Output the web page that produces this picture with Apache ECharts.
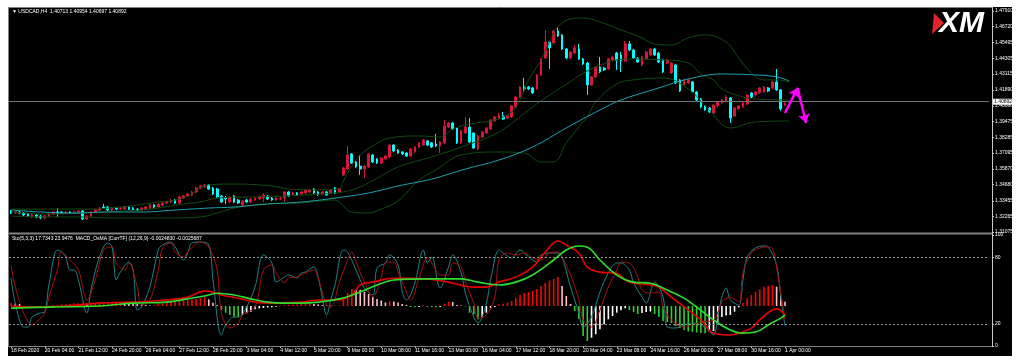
<!DOCTYPE html>
<html><head><meta charset="utf-8">
<script src="https://cdn.jsdelivr.net/npm/echarts@6/dist/echarts.min.js"></script>
<style>html,body{margin:0;padding:0;background:#fff}#c{width:1024px;height:361px}</style>
</head><body><div id="c"></div>
<script>
const tickLabels = ['18 Feb 2020','20 Feb 04:00','21 Feb 12:00','24 Feb 20:00','26 Feb 04:00','27 Feb 12:00','28 Feb 20:00','3 Mar 04:00','4 Mar 12:00','5 Mar 20:00','9 Mar 00:00','10 Mar 08:00','11 Mar 16:00','13 Mar 00:00','16 Mar 04:00','17 Mar 12:00','18 Mar 20:00','20 Mar 04:00','23 Mar 08:00','24 Mar 16:00','26 Mar 00:00','27 Mar 08:00','30 Mar 16:00','1 Apr 00:00'];
const barsPerTick = 8;
const slotCount = 233;
// [open, close, low, high]
const candles = [
[1.3267,1.3252,1.3244,1.3275],[1.3252,1.3260,1.3244,1.3267],[1.3260,1.3252,1.3244,1.3267],[1.3252,1.3237,1.3229,1.3260],[1.3244,1.3229,1.3222,1.3252],
[1.3222,1.3237,1.3214,1.3244],[1.3237,1.3222,1.3214,1.3244],[1.3229,1.3214,1.3206,1.3237],[1.3214,1.3229,1.3206,1.3237],[1.3229,1.3244,1.3222,1.3252],
[1.3244,1.3260,1.3237,1.3267],[1.3260,1.3252,1.3222,1.3290],[1.3260,1.3252,1.3244,1.3267],[1.3252,1.3260,1.3244,1.3267],[1.3260,1.3252,1.3244,1.3267],
[1.3252,1.3260,1.3244,1.3267],[1.3252,1.3267,1.3244,1.3275],[1.3267,1.3206,1.3199,1.3275],[1.3206,1.3229,1.3199,1.3237],[1.3229,1.3260,1.3222,1.3267],
[1.3260,1.3275,1.3252,1.3282],[1.3275,1.3290,1.3267,1.3298],[1.3298,1.3290,1.3282,1.3321],[1.3298,1.3275,1.3267,1.3305],[1.3275,1.3290,1.3267,1.3298],
[1.3290,1.3282,1.3275,1.3298],[1.3282,1.3290,1.3275,1.3298],[1.3282,1.3298,1.3275,1.3305],[1.3298,1.3282,1.3275,1.3305],[1.3290,1.3275,1.3267,1.3298],
[1.3282,1.3275,1.3267,1.3290],[1.3275,1.3290,1.3267,1.3298],[1.3282,1.3298,1.3275,1.3305],[1.3290,1.3313,1.3282,1.3328],[1.3313,1.3298,1.3290,1.3321],
[1.3298,1.3321,1.3290,1.3328],[1.3313,1.3328,1.3305,1.3336],[1.3328,1.3336,1.3321,1.3344],[1.3336,1.3351,1.3328,1.3359],[1.3351,1.3328,1.3321,1.3359],
[1.3328,1.3374,1.3321,1.3382],[1.3366,1.3382,1.3359,1.3389],[1.3382,1.3397,1.3374,1.3405],[1.3389,1.3412,1.3382,1.3420],[1.3412,1.3443,1.3405,1.3451],
[1.3443,1.3458,1.3435,1.3466],[1.3451,1.3466,1.3443,1.3473],[1.3466,1.3435,1.3428,1.3473],[1.3443,1.3397,1.3389,1.3451],[1.3435,1.3374,1.3366,1.3443],
[1.3382,1.3336,1.3328,1.3389],[1.3366,1.3359,1.3321,1.3382],[1.3336,1.3374,1.3328,1.3382],[1.3382,1.3336,1.3328,1.3389],[1.3351,1.3328,1.3321,1.3359],
[1.3313,1.3344,1.3305,1.3351],[1.3351,1.3336,1.3328,1.3359],[1.3336,1.3359,1.3328,1.3366],[1.3351,1.3366,1.3344,1.3374],[1.3359,1.3374,1.3351,1.3382],
[1.3366,1.3389,1.3336,1.3405],[1.3382,1.3359,1.3351,1.3389],[1.3366,1.3351,1.3344,1.3374],[1.3351,1.3366,1.3344,1.3374],[1.3359,1.3366,1.3351,1.3374],
[1.3366,1.3412,1.3336,1.3420],[1.3412,1.3382,1.3374,1.3420],[1.3389,1.3405,1.3382,1.3412],[1.3405,1.3389,1.3382,1.3412],[1.3397,1.3412,1.3389,1.3420],
[1.3405,1.3428,1.3397,1.3435],[1.3412,1.3428,1.3405,1.3435],[1.3435,1.3405,1.3397,1.3443],[1.3412,1.3389,1.3382,1.3420],[1.3397,1.3412,1.3389,1.3420],
[1.3412,1.3389,1.3382,1.3420],[1.3405,1.3428,1.3397,1.3435],[1.3443,1.3405,1.3397,1.3451],[1.3412,1.3435,1.3405,1.3443],[1.3542,1.3595,1.3534,1.3603],
[1.3587,1.3694,1.3580,1.3763],[1.3702,1.3633,1.3626,1.3709],[1.3641,1.3603,1.3595,1.3649],[1.3610,1.3587,1.3542,1.3694],[1.3587,1.3610,1.3519,1.3618],
[1.3603,1.3702,1.3595,1.3709],[1.3694,1.3641,1.3633,1.3702],[1.3664,1.3633,1.3626,1.3671],[1.3633,1.3671,1.3626,1.3679],[1.3664,1.3686,1.3656,1.3694],
[1.3679,1.3770,1.3671,1.3778],[1.3770,1.3724,1.3717,1.3778],[1.3732,1.3709,1.3702,1.3740],[1.3717,1.3702,1.3694,1.3724],[1.3709,1.3686,1.3679,1.3717],
[1.3686,1.3740,1.3679,1.3747],[1.3717,1.3755,1.3709,1.3763],[1.3755,1.3786,1.3747,1.3793],[1.3770,1.3809,1.3763,1.3816],[1.3801,1.3770,1.3763,1.3809],
[1.3786,1.3755,1.3747,1.3793],[1.3778,1.3763,1.3755,1.3854],[1.3763,1.3793,1.3709,1.3801],[1.3786,1.3915,1.3778,1.3961],[1.3907,1.3938,1.3900,1.3946],
[1.3938,1.3892,1.3885,1.3946],[1.3900,1.3786,1.3778,1.3907],[1.3786,1.3877,1.3778,1.3885],[1.3862,1.3907,1.3854,1.3984],[1.3907,1.3793,1.3786,1.3976],
[1.3862,1.3747,1.3740,1.3869],[1.3740,1.3839,1.3732,1.3847],[1.3831,1.3869,1.3824,1.3877],[1.3862,1.3900,1.3854,1.3907],[1.3892,1.3961,1.3885,1.3968],
[1.3953,1.3984,1.3946,1.3991],[1.3976,1.3999,1.3968,1.4014],[1.3991,1.3968,1.3961,1.4022],[1.3976,1.3991,1.3968,1.3999],[1.3984,1.4068,1.3976,1.4075],
[1.4060,1.4136,1.4052,1.4144],[1.4136,1.4212,1.4128,1.4220],[1.4212,1.4197,1.4174,1.4281],[1.4212,1.4197,1.4190,1.4220],[1.4205,1.4167,1.4159,1.4212],
[1.4197,1.4304,1.4190,1.4311],[1.4304,1.4426,1.4296,1.4433],[1.4433,1.4555,1.4426,1.4647],[1.4555,1.4510,1.4349,1.4563],[1.4548,1.4639,1.4540,1.4647],
[1.4639,1.4601,1.4593,1.4670],[1.4609,1.4502,1.4494,1.4616],[1.4502,1.4433,1.4426,1.4510],[1.4433,1.4479,1.4426,1.4487],[1.4471,1.4510,1.4464,1.4532],
[1.4502,1.4426,1.4418,1.4540],[1.4426,1.4388,1.4380,1.4433],[1.4395,1.4228,1.4151,1.4403],[1.4228,1.4289,1.4220,1.4296],[1.4289,1.4365,1.4281,1.4372],
[1.4365,1.4327,1.4319,1.4441],[1.4357,1.4342,1.4334,1.4365],[1.4349,1.4426,1.4342,1.4433],[1.4418,1.4441,1.4410,1.4449],[1.4471,1.4418,1.4342,1.4479],
[1.4456,1.4410,1.4327,1.4479],[1.4410,1.4540,1.4403,1.4563],[1.4540,1.4494,1.4487,1.4563],[1.4494,1.4433,1.4426,1.4502],[1.4433,1.4403,1.4395,1.4441],
[1.4380,1.4441,1.4372,1.4449],[1.4426,1.4479,1.4418,1.4487],[1.4456,1.4502,1.4449,1.4510],[1.4502,1.4456,1.4449,1.4510],[1.4471,1.4403,1.4395,1.4479],
[1.4418,1.4327,1.4319,1.4426],[1.4395,1.4418,1.4388,1.4426],[1.4319,1.4395,1.4311,1.4403],[1.4380,1.4243,1.4235,1.4388],[1.4266,1.4182,1.4174,1.4273],
[1.4228,1.4266,1.4220,1.4273],[1.4243,1.4266,1.4235,1.4273],[1.4251,1.4174,1.4167,1.4258],[1.4174,1.4113,1.4106,1.4182],[1.4121,1.4060,1.4052,1.4128],
[1.4068,1.4037,1.4030,1.4075],[1.4052,1.4022,1.4014,1.4060],[1.4014,1.4075,1.4007,1.4083],[1.4068,1.4098,1.4060,1.4106],[1.4090,1.4113,1.4083,1.4121],
[1.4106,1.4136,1.4098,1.4151],[1.4128,1.3976,1.3938,1.4136],[1.3991,1.4052,1.3984,1.4060],[1.4045,1.4068,1.4037,1.4075],[1.4060,1.4090,1.4052,1.4098],
[1.4083,1.4151,1.4075,1.4159],[1.4167,1.4136,1.4128,1.4174],[1.4151,1.4174,1.4144,1.4182],[1.4167,1.4205,1.4159,1.4212],[1.4174,1.4212,1.4167,1.4220],
[1.4205,1.4182,1.4174,1.4212],[1.4205,1.4251,1.4197,1.4258],[1.4251,1.4190,1.4182,1.4349],[1.4190,1.4045,1.4030,1.4197],[1.40713,1.40892,1.40697,1.40954]
];
// Bollinger bands and moving average, [bar index, price]
const bbUpper = [[0,1.3282],[9,1.3282],[17,1.3282],[26,1.3298],[33,1.3328],[41,1.3366],[47,1.3466],[53,1.3473],[62,1.3458],[66,1.3435],[73,1.3428],[78,1.3435],[79,1.3496],[81,1.3610],[83,1.3694],[86,1.3763],[90,1.3824],[97,1.3839],[102,1.3831],[105,1.3892],[109,1.3930],[115,1.3961],[119,1.4022],[121,1.4113],[123,1.4266],[126,1.4418],[128,1.4555],[130,1.4670],[133,1.4731],[136,1.4738],[140,1.4708],[145,1.4647],[150,1.4586],[153,1.4540],[157,1.4532],[161,1.4586],[165,1.4609],[170,1.4555],[173,1.4433],[176,1.4319],[179,1.4266],[182,1.4266],[185,1.4251]];
const bbMiddle = [[0,1.3260],[9,1.3244],[17,1.3252],[26,1.3267],[33,1.3282],[41,1.3321],[45,1.3336],[49,1.3366],[57,1.3374],[65,1.3382],[77,1.3405],[81,1.3428],[85,1.3481],[92,1.3603],[100,1.3679],[107,1.3755],[116,1.3869],[123,1.4037],[127,1.4128],[131,1.4212],[139,1.4365],[147,1.4426],[155,1.4418],[161,1.4395],[164,1.4311],[167,1.4266],[169,1.4197],[174,1.4136],[177,1.4121],[185,1.4113]];
const bbLower = [[0,1.3229],[9,1.3222],[17,1.3222],[24,1.3214],[36,1.3214],[45,1.3222],[49,1.3252],[53,1.3290],[61,1.3321],[69,1.3328],[77,1.3351],[78,1.3336],[81,1.3260],[85,1.3252],[88,1.3282],[92,1.3344],[97,1.3504],[101,1.3580],[107,1.3694],[116,1.3717],[122,1.3709],[126,1.3641],[129,1.3641],[132,1.3786],[135,1.3907],[137,1.3984],[139,1.4098],[144,1.4235],[148,1.4266],[155,1.4281],[161,1.4197],[166,1.4037],[171,1.3900],[177,1.3946],[185,1.3953]];
const maLine = [[0,1.3275],[7,1.3260],[15,1.3252],[23,1.3260],[31,1.3260],[39,1.3275],[47,1.3290],[53,1.3298],[61,1.3321],[69,1.3336],[77,1.3366],[85,1.3405],[92,1.3458],[100,1.3511],[108,1.3587],[116,1.3656],[124,1.3755],[132,1.3900],[140,1.4037],[145,1.4113],[154,1.4205],[161,1.4273],[169,1.4311],[177,1.4304],[182,1.4289],[185,1.4258]];
// Stochastic (5,3,3), [bar index, value]
const stochMain = [[0,61.3],[1,38.7],[3,17.1],[4,17.1],[5,26.1],[7,29.7],[8,30.6],[9,55],[11,86.5],[12,84.7],[13,80.2],[14,68.5],[15,68.5],[16,59.5],[18,29.7],[19,50.5],[21,80.2],[23,92.8],[24,89.2],[25,59.5],[26,66.7],[28,75.7],[29,68.5],[30,32.4],[31,35.1],[33,53.2],[35,86.5],[36,91],[38,93.7],[39,89.2],[41,77.5],[42,83.8],[43,92.8],[45,93.7],[47,91],[48,59.5],[50,9.9],[51,18.9],[53,26.1],[54,26.1],[56,35.1],[58,53.2],[60,82],[62,74.8],[63,57.7],[65,62.2],[66,64],[68,61.3],[69,65.8],[70,66.7],[72,71.2],[73,62.2],[74,43.2],[75,27.9],[76,41.4],[77,55],[79,86.5],[80,84.7],[82,68.5],[84,52.3],[86,45.9],[87,70.3],[89,74.8],[90,82],[92,73],[93,48.6],[94,41.4],[96,56.8],[98,86.5],[99,74.8],[100,80.2],[102,52.3],[104,71.2],[105,82],[107,65.8],[108,47.7],[110,26.1],[111,20.7],[113,38.7],[114,59.5],[116,86.5],[117,83.8],[119,79.3],[121,86.5],[123,80.2],[125,75.7],[126,82],[129,83.8],[130,83.8],[131,80.2],[133,53.2],[135,29.7],[136,17.1],[138,26.1],[140,48.6],[142,65.8],[144,74.8],[145,74.8],[147,68.5],[148,56.8],[150,44.1],[151,38.7],[153,57.7],[155,44.1],[156,17.1],[158,16.2],[160,18.9],[162,20.7],[165,17.1],[167,9.9],[168,26.1],[169,44.1],[170,52.3],[171,41.4],[173,36.9],[174,59.5],[175,80.2],[177,88.3],[179,90.1],[180,89.2],[182,73],[183,44.1],[184,17.7343]];
const stochSignal = [[0,73],[1,53.2],[3,29.7],[5,18.9],[6,21.6],[8,29.7],[9,44.1],[11,68.5],[12,84.7],[14,77.5],[16,68.5],[17,53.2],[18,41.4],[20,59.5],[22,86.5],[24,89.2],[25,74.8],[27,68.5],[28,74.8],[30,53.2],[31,36.9],[33,41.4],[35,68.5],[36,88.3],[38,92.8],[39,84.7],[41,80.2],[42,84.7],[45,93.7],[47,89.2],[49,68.5],[50,29.7],[52,16.2],[54,20.7],[55,27.9],[58,35.1],[60,68.5],[62,73],[63,65.8],[65,56.8],[66,61.3],[68,62.2],[69,64],[70,65.8],[72,68.5],[73,61.3],[75,36.9],[76,35.1],[78,56.8],[80,77.5],[81,84.7],[82,75.7],[84,57.7],[86,44.1],[88,62.2],[89,74.8],[91,75.7],[92,66.7],[94,48.6],[95,41.4],[97,61.3],[99,79.3],[100,74.8],[102,64],[104,64],[105,74.8],[107,71.2],[108,57.7],[110,38.7],[111,25.2],[113,27.9],[115,44.1],[116,77.5],[118,83.8],[120,82],[122,83.8],[124,79.3],[126,77.5],[128,83.8],[130,84.7],[131,80.2],[133,64],[135,41.4],[136,23.4],[138,17.1],[140,32.4],[142,53.2],[144,68.5],[145,75.7],[147,74.8],[149,62.2],[150,50.5],[152,47.7],[154,48.6],[155,35.1],[157,23.4],[160,17.1],[162,18.9],[164,21.6],[167,23.4],[169,39.6],[171,44.1],[173,39.6],[174,65.8],[176,83.8],[178,88.3],[180,89.2],[181,88.3],[182,71.2],[183,47.7],[184,23.9476]];
// MACD (12,26,9) main and signal, [bar index, value]
const macdMain = [[0,0],[5,-0.0003],[13,0],[21,0.0008],[29,0.0011],[37,0.0017],[42,0.0025],[46,0.0042],[48,0.0039],[50,0.0031],[54,0.0022],[58,0.0011],[62,0.0008],[69,0.0011],[73,0.0017],[78,0.0017],[81,0.0031],[83,0.0059],[86,0.0067],[91,0.0078],[95,0.0078],[99,0.0076],[104,0.0067],[110,0.0053],[113,0.0053],[116,0.0067],[120,0.0081],[124,0.0109],[127,0.0151],[130,0.0182],[132,0.0171],[135,0.0148],[137,0.0109],[140,0.0095],[144,0.0092],[146,0.0073],[148,0.0064],[152,0.0059],[154,0.0053],[157,0.0025],[161,-0.0011],[164,-0.0039],[167,-0.0076],[171,-0.0081],[173,-0.0076],[176,-0.0062],[178,-0.0039],[182,-0.0008],[184,-0.0024830]];
const macdSignal = [[0,-0.0006],[9,-0.0003],[21,0],[29,0.0008],[37,0.0011],[42,0.0020],[46,0.0028],[49,0.0036],[53,0.0031],[57,0.0020],[61,0.0011],[65,0.0008],[69,0.0008],[73,0.0011],[78,0.0020],[83,0.0039],[87,0.0059],[91,0.0073],[100,0.0076],[107,0.0076],[111,0.0067],[116,0.0059],[120,0.0067],[124,0.0087],[129,0.0129],[132,0.0157],[135,0.0168],[137,0.0165],[140,0.0129],[144,0.0087],[148,0.0067],[152,0.0064],[156,0.0045],[160,0.0022],[163,-0.0003],[167,-0.0039],[171,-0.0067],[174,-0.0076],[177,-0.0073],[180,-0.0053],[183,-0.0034],[184,-0.0025687]];
// OsMA histogram, one value per bar (units of 1e-5)
const osmaHist = [
6,5,4,-1.6,-2,-2.4,-2,-1.6,-1.2,-0.8,
1.6,2.4,3.2,4,4.4,4.8,5.2,5.6,5.2,5.6,
6,6.4,6.8,7.2,7.6,8,8.4,7,6,5,
4,3,2,1.2,1.6,4,5,6.6,8,9,
10,11,12,13,14,15.4,17.4,13.4,6.6,2,
-8,-13.4,-18,-21.4,-22,-18,-14.6,-11.4,-6.6,-5,
-4,-3,-2.4,-1.6,1,2,2.4,2.8,3.2,4,
4.4,5,4,3,1.6,1,0.8,0.6,0.4,16,
26,34,33,32,28,24,18,14,11,7,
10,9,7,4,2,-2,-2.6,-2,1.6,-1.6,
-2.4,-2.8,-2,4.6,8.6,8,2,1,-1,-13.4,
-16.6,-26.6,-23.4,-13.4,-4.6,-2,3.4,4.6,6.6,10,
16,22,26,28,30,34,40,46,51,54,
58,40,20,4,-10,-26.6,-60,-70,-63.4,-56.6,
-46.6,-36.6,-26.6,-20,-13.4,-8.6,-4.6,-8,-12,-16,
-14,-12,-11,-16,-22,-30,-32,-34,-40,-44,
-48,-51,-52,-53,-54,-54.4,-51,-50,-32,-22,
-19,-18,-11.4,-2.6,6.6,15.4,22,28.6,33.4,38.6,
40,42,38.6,22,8.6
];
const priceTicks = [1.47910,1.46720,1.45495,1.44305,1.43115,1.41890,1.40680,1.39475,1.38285,1.37095,1.35870,1.34680,1.33455,1.32265,1.31075];
const stochTicks = [100,80,20,0];
const stochLevels = [80,20];
// hand-drawn forecast arrow, [bar index, price]
const arrowPath = [[184,1.4014],[187,1.4205],[189,1.3938]];

const FONT = '"Liberation Sans", Arial, sans-serif';
const BULL = '#DC143C', BEAR = '#00FFFF';
const cats = Array.from({length: slotCount}, (_, i) => 'b' + i);
const showTick = (i) => i % barsPerTick === 0 && i / barsPerTick < tickLabels.length;
const last = candles[candles.length - 1];
const titleText = '\u25BC USDCAD,H4  ' + [last[0], last[3], last[2], last[1]].map(v => v.toFixed(5)).join(' ');
const subTitle = 'Sto(5,3,3) 17.7343 23.9476  MACD_OsMA [CurrTF] (12,26,9) -0.0024830 -0.0025687';
const osmaData = osmaHist.map((v, i) => {
  const p = i > 0 ? osmaHist[i - 1] : v;
  const col = v >= 0 ? (v >= p ? '#FF0000' : '#FFC0CB') : (v <= p ? '#32CD32' : '#FFFFFF');
  return {value: v, itemStyle: {color: col}};
});

const chart = echarts.init(document.getElementById('c'), null, {renderer: 'canvas'});
const lineS = (name, data, color, yIdx, xIdx, width, smooth) => ({
  name, type: 'line', data, xAxisIndex: xIdx, yAxisIndex: yIdx, showSymbol: false, symbol: 'none',
  smooth: smooth, lineStyle: {color, width}, silent: true, z: 3
});
chart.setOption({
  animation: false,
  backgroundColor: '#ffffff',
  graphic: [
    {type: 'rect', shape: {x: 8, y: 7, width: 1004, height: 349}, style: {fill: '#000000'}, z: -5, silent: true},
    {type: 'line', shape: {x1: 8, y1: 7.5, x2: 993, y2: 7.5}, style: {stroke: '#808080', lineWidth: 1}, z: 10},
    {type: 'line', shape: {x1: 8.5, y1: 7, x2: 8.5, y2: 347}, style: {stroke: '#808080', lineWidth: 1}, z: 10},
    {type: 'rect', shape: {x: 9, y: 232.5, width: 984, height: 2}, style: {fill: '#808080'}, z: 10},
    {type: 'line', shape: {x1: 8, y1: 346.5, x2: 993, y2: 346.5}, style: {stroke: '#808080', lineWidth: 1}, z: 10},
    {type: 'line', shape: {x1: 992.5, y1: 7, x2: 992.5, y2: 347}, style: {stroke: '#c8c8c8', lineWidth: 1}, z: 10},
    {type: 'text', x: 12, y: 9.5, style: {text: titleText, fill: '#ffffff', font: '5px ' + FONT, textVerticalAlign: 'top'}, z: 20},
    {type: 'text', x: 12, y: 236, style: {text: subTitle, fill: '#ffffff', font: '5px ' + FONT, textVerticalAlign: 'top'}, z: 20},
    {type: 'polygon', shape: {points: [[934, 13], [944, 23], [932, 34]]}, style: {fill: '#E3222B'}, z: 20},
    {type: 'text', x: 939, y: 24, style: {text: 'XM', fill: '#ffffff', font: 'italic bold 30px ' + FONT, textVerticalAlign: 'middle'}, z: 19}
  ],
  grid: [
    {left: 9, top: 11, width: 980, height: 221},
    {left: 9, top: 235, width: 980, height: 111}
  ],
  xAxis: [
    {type: 'category', gridIndex: 0, data: cats, show: false, boundaryGap: true},
    {type: 'category', gridIndex: 1, data: cats, boundaryGap: true,
     axisLine: {show: false},
     axisTick: {show: true, interval: (i) => showTick(i), alignWithLabel: true, length: 2, lineStyle: {color: '#c8c8c8'}},
     axisLabel: {interval: (i) => showTick(i), formatter: (v, i) => tickLabels[i / barsPerTick], color: '#ffffff', fontSize: 5, fontFamily: FONT, align: 'left', margin: 2}}
  ],
  yAxis: [
    {type: 'value', gridIndex: 0, position: 'right', offset: 3, min: 1.31075, max: 1.47910, splitLine: {show: false}, axisLine: {show: false},
     axisTick: {show: true, length: 2, customValues: priceTicks, lineStyle: {color: '#c8c8c8'}},
     axisLabel: {customValues: priceTicks, formatter: (v) => v.toFixed(5), color: '#ffffff', fontSize: 5, fontFamily: FONT, margin: 3}},
    {type: 'value', gridIndex: 1, position: 'right', offset: 3, min: 0, max: 100, splitLine: {show: false}, axisLine: {show: false},
     axisTick: {show: true, length: 2, customValues: stochTicks, lineStyle: {color: '#c8c8c8'}},
     axisLabel: {customValues: stochTicks, color: '#ffffff', fontSize: 5, fontFamily: FONT, margin: 3}},
    {type: 'value', gridIndex: 1, show: false, min: -0.0112, max: 0.0199},
    {type: 'value', gridIndex: 1, show: false, min: -80, max: 142}
  ],
  series: [
    {type: 'candlestick', name: 'USDCAD', xAxisIndex: 0, yAxisIndex: 0, data: candles, barWidth: 2.2, silent: true,
     itemStyle: {color: BULL, color0: BEAR, borderColor: BULL, borderColor0: BEAR, borderWidth: 1},
     markLine: {silent: true, symbol: ['none', 'none'], animation: false, data: [{yAxis: last[1]}],
       lineStyle: {color: '#6c777c', width: 1, type: 'solid'},
       label: {show: true, position: 'end', distance: 4, formatter: last[1].toFixed(5), color: '#000000', backgroundColor: '#ffffff', fontSize: 5, fontFamily: FONT, padding: [1, 1, 0, 1]}}},
    lineS('BB upper', bbUpper, '#124a12', 0, 0, 1, 0.4),
    lineS('BB middle', bbMiddle, '#124a12', 0, 0, 1, 0.4),
    lineS('BB lower', bbLower, '#124a12', 0, 0, 1, 0.4),
    lineS('MA', maLine, '#1FA3AE', 0, 0, 1, 0.4),
    {type: 'lines', coordinateSystem: 'cartesian2d', xAxisIndex: 0, yAxisIndex: 0, silent: true, z: 6,
     symbol: ['none', 'arrow'], symbolSize: 9,
     lineStyle: {color: '#FF00FF', width: 2.5, opacity: 1},
     data: [{coords: [arrowPath[0], arrowPath[1]]}, {coords: [arrowPath[1], arrowPath[2]]}]},
    {type: 'bar', name: 'OsMA', xAxisIndex: 1, yAxisIndex: 3, data: osmaData, barWidth: 1.6, silent: true, z: 2},
    Object.assign(lineS('Sto main', stochMain, '#1E8585', 1, 1, 1, 0.35), {
      markLine: {silent: true, symbol: ['none', 'none'], animation: false, label: {show: false},
        lineStyle: {color: '#9a9a9a', width: 1, type: [2, 2]}, data: stochLevels.map(v => ({yAxis: v}))}}),
    lineS('Sto signal', stochSignal, '#A81010', 1, 1, 1, 0.35),
    lineS('MACD', macdMain, '#E80000', 2, 1, 1.6, 0.4),
    lineS('Signal', macdSignal, '#2EE02E', 2, 1, 1.6, 0.4)
  ]
});
</script></body></html>
